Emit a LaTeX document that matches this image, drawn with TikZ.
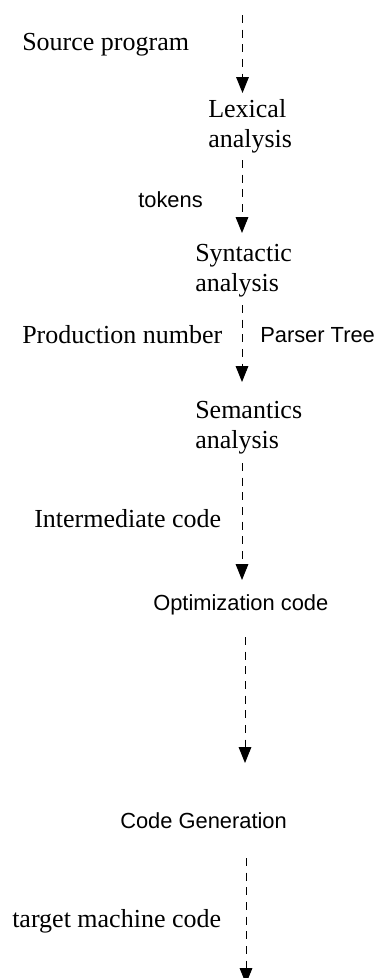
\documentclass[tikz,border=0pt]{standalone}
\usepackage{fontspec}
\setmainfont{Liberation Serif}
\newfontfamily\arialf{Liberation Sans}
\usetikzlibrary{arrows.meta}
\begin{document}
\begin{tikzpicture}[x=0.75pt,y=-0.75pt,
  serlab/.style={anchor=base west,inner sep=0pt,align=left,
    font=\fontsize{19.5}{22.5}\selectfont},
  sanlab/.style={anchor=base west,inner sep=0pt,
    font=\arialf\fontsize{16.4}{20}\selectfont},
  flow/.style={line width=0.75pt,dash pattern=on 6pt off 5pt,
    -{Triangle[width=9.5pt,length=12pt]}}]
\useasboundingbox (0,0) rectangle (380,978);
% labels (multi-line labels: base is the last line)
\node[serlab] (src) at (22,50) {Source program};
\node[serlab] (lex) at (208,147) {Lexical\\analysis};
\node[sanlab] (tok) at (138,207) {tokens};
\node[serlab] (syn) at (195,291) {Syntactic\\analysis};
\node[serlab] (prod) at (22,343) {Production number};
\node[sanlab] (ptree) at (260,342) {Parser Tree};
\node[serlab] (sem) at (195,448) {Semantics\\analysis};
\node[serlab] (inter) at (34,527) {Intermediate code};
\node[sanlab] (opt) at (153,610) {Optimization code};
\node[sanlab] (gen) at (120,828) {Code Generation};
\node[serlab] (tgt) at (12,927) {target machine code};
% connector end points
\coordinate (a1s) at (242.5,15);  \coordinate (a1e) at (242.5,93);
\coordinate (a2s) at (242,160);   \coordinate (a2e) at (242,233);
\coordinate (a3s) at (242,305);   \coordinate (a3e) at (242,382);
\coordinate (a4s) at (242,463);   \coordinate (a4e) at (242,580);
\coordinate (a5s) at (245,637);   \coordinate (a5e) at (245,763);
\coordinate (a6s) at (246,858);   \coordinate (a6e) at (246,984);
\begin{scope}
\clip (0,0) rectangle (380,978);
\draw[flow] (a1s) -- (a1e);
\draw[flow] (a2s) -- (a2e);
\draw[flow] (a3s) -- (a3e);
\draw[flow] (a4s) -- (a4e);
\draw[flow] (a5s) -- (a5e);
\draw[flow] (a6s) -- (a6e);
\end{scope}
\end{tikzpicture}
\end{document}
